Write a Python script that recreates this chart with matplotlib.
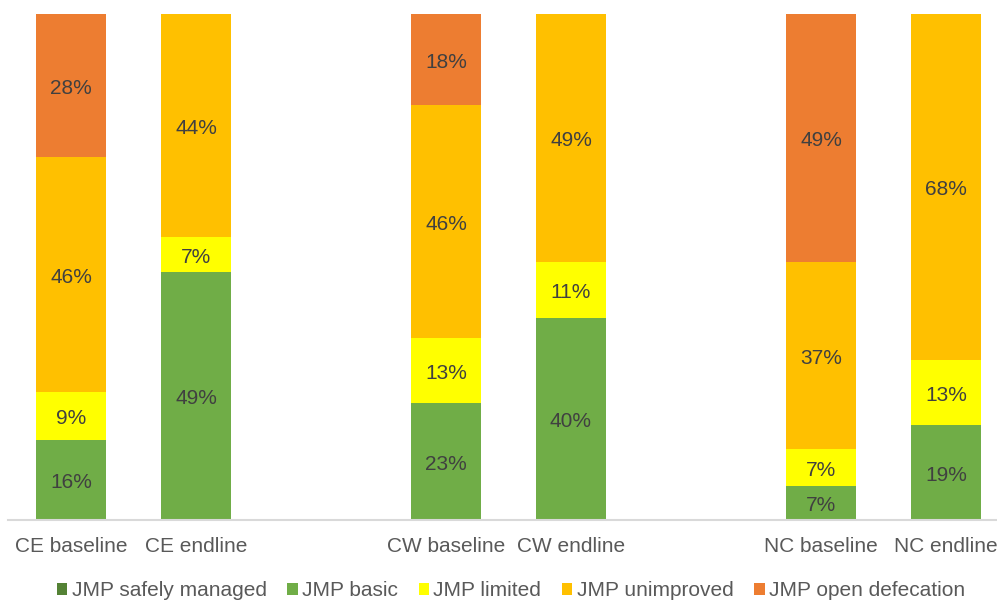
import matplotlib
matplotlib.use("Agg")
import matplotlib.pyplot as plt
from matplotlib.patches import Patch

plt.rcParams['font.family'] = ['Liberation Sans', 'DejaVu Sans']

# Survey rounds, with blank slots separating the three regions
categories = ["CE baseline", "CE endline", "", "CW baseline", "CW endline", "",
              "NC baseline", "NC endline"]

# Share of households per sanitation ladder rung (%)
safely_managed = [0.0, 0.0, None, 0.0, 0.0, None, 0.0, 0.0]
basic = [15.9, 49.0, None, 23.1, 39.9, None, 6.7, 18.7]
limited = [9.4, 6.9, None, 12.8, 11.1, None, 7.3, 12.9]
unimproved = [46.4, 44.1, None, 46.2, 49.0, None, 37.0, 68.4]
open_defecation = [28.3, 0.0, None, 17.9, 0.0, None, 49.0, 0.0]

series = [
    ("JMP safely managed", safely_managed, "#548235"),
    ("JMP basic", basic, "#70AD47"),
    ("JMP limited", limited, "#FFFF00"),
    ("JMP unimproved", unimproved, "#FFC000"),
    ("JMP open defecation", open_defecation, "#ED7D31"),
]

fig = plt.figure(figsize=(9.97, 6.01), dpi=100)
ax = fig.add_axes([8 / 997, 1 - 520 / 601, 1 - 8 / 997, (520 - 14) / 601])

positions = [i for i, c in enumerate(categories) if c]
bottoms = {p: 0.0 for p in positions}
width = 0.555

for name, values, color in series:
    for p in positions:
        v = values[p]
        if not v:
            continue
        ax.bar(p, v, width=width, bottom=bottoms[p], color=color, linewidth=0)
        ax.annotate(f"{v:.0f}%", (p, bottoms[p] + v / 2), xytext=(0, -2),
                    textcoords="offset points", ha="center", va="center",
                    fontsize=15, color="#404040")
        bottoms[p] += v

ax.set_xlim(-0.504, 7.408)
ax.set_ylim(0, 100)
ax.set_xticks(positions)
ax.set_xticklabels([categories[p] for p in positions], fontsize=15, color="#595959")
ax.tick_params(axis="x", length=0, pad=12.5)
ax.set_yticks([])
for side in ("top", "left", "right"):
    ax.spines[side].set_visible(False)
ax.spines["bottom"].set_color("#D9D9D9")
ax.spines["bottom"].set_linewidth(1.5)

handles = [Patch(facecolor=c, edgecolor="none", label=n) for n, _, c in series]
fig.legend(handles=handles, loc="center", bbox_to_anchor=(511 / 997, 1 - 591 / 601),
           ncol=5, frameon=False, fontsize=15, handlelength=0.5, handleheight=0.5,
           handletextpad=0.2, columnspacing=1.0, borderpad=0,
           labelcolor="#595959")

fig.savefig("out.png", dpi=100)
